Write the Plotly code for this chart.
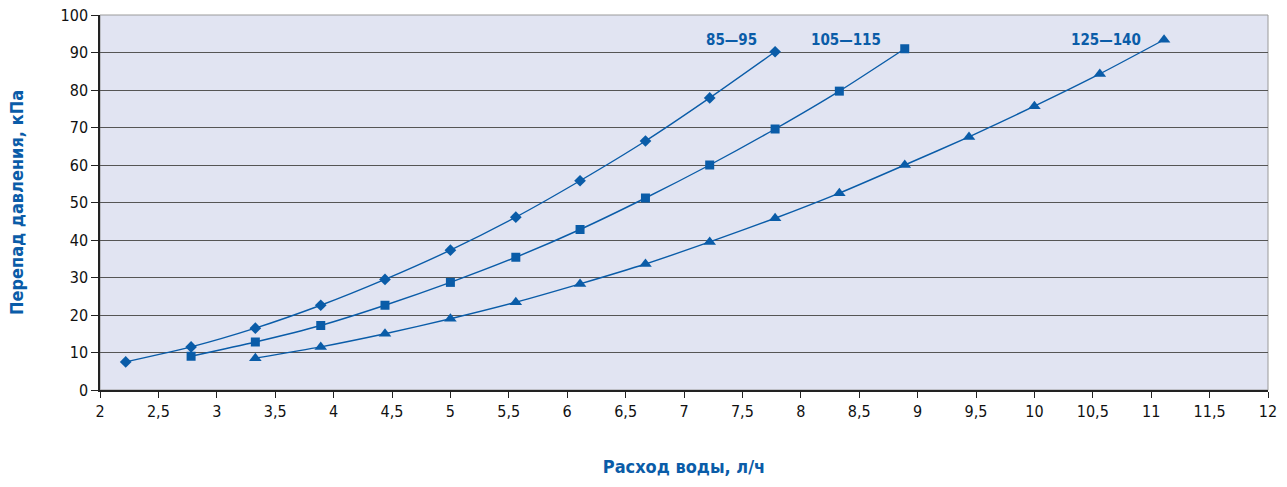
import plotly.graph_objects as go

x_vals = [2.22, 2.78, 3.33, 3.89, 4.44, 5.0, 5.56, 6.11, 6.67, 7.22, 7.78, 8.33, 8.89, 9.44, 10.0, 10.56, 11.11]

s1_x = x_vals[0:11]
s1_y = [7.5, 11.5, 16.5, 22.6, 29.5, 37.3, 46.1, 55.8, 66.4, 77.9, 90.2]

s2_x = x_vals[1:13]
s2_y = [9.0, 12.8, 17.2, 22.6, 28.7, 35.4, 42.8, 51.2, 60.0, 69.6, 79.7, 91.0]

s3_x = x_vals[2:17]
s3_y = [8.5, 11.5, 15.0, 19.0, 23.4, 28.3, 33.6, 39.5, 45.8, 52.5, 60.0, 67.5, 75.7, 84.3, 93.4]

series_names = ["85—95", "105—115", "125—140"]
label_pos = [(7.41, 93.3), (8.39, 93.3), (10.61, 93.3)]

x_ticks = [2, 2.5, 3, 3.5, 4, 4.5, 5, 5.5, 6, 6.5, 7, 7.5, 8, 8.5, 9, 9.5, 10, 10.5, 11, 11.5, 12]
x_tick_text = [str(v).replace(".", ",") for v in x_ticks]
y_ticks = list(range(0, 101, 10))

BLUE = "#0a5ca8"
FONT = "Liberation Sans Narrow, DejaVu Sans Condensed, sans-serif"

fig = go.Figure()
for xs, ys, sym, sz, name in [
    (s1_x, s1_y, "diamond", 9, series_names[0]),
    (s2_x, s2_y, "square", 9, series_names[1]),
    (s3_x, s3_y, "triangle-up", 11, series_names[2]),
]:
    fig.add_trace(go.Scatter(
        x=xs, y=ys, mode="lines+markers", name=name,
        line=dict(color=BLUE, width=1.4, shape="spline", smoothing=0.6),
        marker=dict(symbol=sym, size=sz, color=BLUE),
        showlegend=False,
    ))

for name, (lx, ly) in zip(series_names, label_pos):
    fig.add_annotation(x=lx, y=ly, text=f"<b>{name}</b>", showarrow=False,
                       font=dict(family=FONT, size=15, color=BLUE),
                       xanchor="center", yanchor="middle")

# plot border (top/right gray)
fig.add_shape(type="rect", xref="paper", yref="paper", x0=0, y0=0, x1=1, y1=1,
              line=dict(color="#9a9a9a", width=1), layer="below")

fig.update_layout(
    width=1287, height=487,
    margin=dict(l=100, r=19, t=15, b=97),
    paper_bgcolor="white",
    plot_bgcolor="#e1e4f2",
    font=dict(family=FONT, size=16, color="#111111"),
)
fig.update_xaxes(
    range=[2, 12], tickvals=x_ticks, ticktext=x_tick_text, automargin=False,
    ticklabeloverflow="allow",
    showgrid=False, zeroline=False,
    showline=True, linecolor="#222222", linewidth=1.5,
    ticks="outside", ticklen=6, tickcolor="#222222",
    title=dict(text="<b>Расход воды, л/ч</b>", font=dict(family=FONT, size=18, color=BLUE), standoff=40),
)
fig.update_yaxes(
    range=[0, 100], tickvals=y_ticks, automargin=False,
    ticklabeloverflow="allow",
    showgrid=True, gridcolor="#555555", gridwidth=1, zeroline=False,
    showline=True, linecolor="#222222", linewidth=1.5,
    ticks="outside", ticklen=7, tickcolor="#222222",
    title=dict(text="<b>Перепад давления, кПа</b>", font=dict(family=FONT, size=18, color=BLUE), standoff=32),
)

fig.write_html(
    "out.html",
    config={"displayModeBar": False},
    post_script="document.body.style.margin='0';document.body.style.overflow='hidden';",
)
